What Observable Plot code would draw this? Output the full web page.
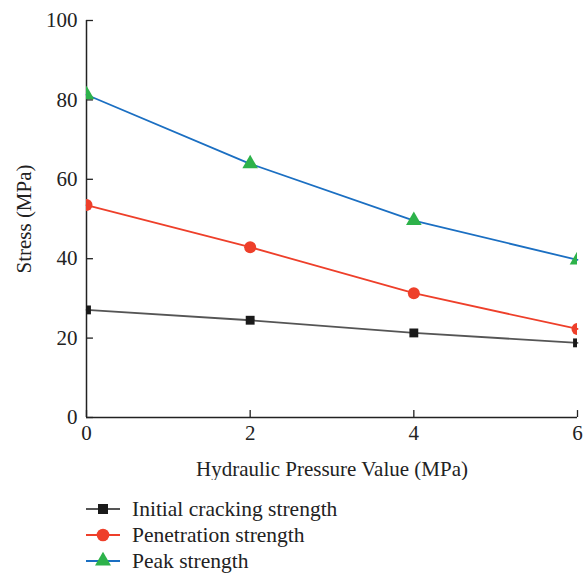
<!DOCTYPE html>
<html>
<head>
<meta charset="utf-8">
<script src="https://cdn.jsdelivr.net/npm/d3@7"></script>
<script src="https://cdn.jsdelivr.net/npm/@observablehq/plot@0.6"></script>
<style>
  html, body { margin: 0; padding: 0; background: #fff; }
  body { width: 588px; height: 573px; overflow: hidden; font-family: "Liberation Serif", "DejaVu Serif", serif; color: #222; }
  #legend { margin-left: 86px; margin-top: 16px; }
  .row { display: flex; align-items: center; height: 26px; font-size: 21.5px; }
  .row svg { margin-right: 12px; }
</style>
</head>
<body>
<div id="chart"></div>
<div id="legend"></div>
<script>
const pressure = [0, 2, 4, 6];
const seriesNames = ["Initial cracking strength", "Penetration strength", "Peak strength"];
const initialCracking = [27.1, 24.5, 21.3, 18.8];
const penetration = [53.5, 42.9, 31.3, 22.3];
const peak = [81.3, 63.9, 49.6, 39.7];
const xTicks = [0, 2, 4, 6];
const yTicks = [0, 20, 40, 60, 80, 100];

const lineColors = ["#555555", "#ee3f2a", "#1b6fc2"];
const markColors = ["#1a1a1a", "#ee3f2a", "#2db24a"];
const symbols = ["square", "circle", "triangle"];

const valuesList = [initialCracking, penetration, peak];
const data = [];
seriesNames.forEach((s, i) => pressure.forEach((p, j) => data.push({series: s, x: p, y: valuesList[i][j], idx: i})));

const marks = [
  Plot.axisX({ticks: xTicks, tickFormat: "d", tickSize: 0, tickPadding: 8, fontSize: 21, label: "Hydraulic Pressure Value (MPa)", labelAnchor: "center", labelOffset: 58, labelArrow: "none"}),
  Plot.axisY({ticks: yTicks, tickFormat: "d", tickSize: 0, tickPadding: 9, fontSize: 21, label: "Stress (MPa)", labelAnchor: "center", labelOffset: 70, labelArrow: "none"}),
  Plot.ruleX(xTicks, {x: d => d, y1: 0, y2: 1.75, stroke: "#222", strokeWidth: 1.3}),
  Plot.ruleY(yTicks, {y: d => d, x1: 0, x2: 0.085, stroke: "#222", strokeWidth: 1.3}),
  Plot.ruleX([0], {stroke: "#222", strokeWidth: 1.5}),
  Plot.ruleY([0], {stroke: "#222", strokeWidth: 1.5})
];
seriesNames.forEach((s, i) => {
  const d = data.filter(r => r.idx === i);
  marks.push(Plot.line(d, {x: "x", y: "y", stroke: lineColors[i], strokeWidth: 1.8}));
});
seriesNames.forEach((s, i) => {
  const d = data.filter(r => r.idx === i);
  marks.push(Plot.dot(d, {x: "x", y: "y", symbol: () => symbols[i], fill: markColors[i], stroke: "none", r: i === 0 ? 5 : i === 1 ? 6 : 5.8, clip: true}));
});

const chart = Plot.plot({
  width: 588,
  height: 480,
  marginLeft: 86,
  marginRight: 11,
  marginTop: 20,
  marginBottom: 63,
  style: {fontFamily: "'Liberation Serif', 'DejaVu Serif', serif", fontSize: "21px", color: "#222", background: "#fff"},
  x: {domain: [0, 6]},
  y: {domain: [0, 100]},
  symbol: {type: "identity"},
  marks
});
document.getElementById("chart").appendChild(chart);

// legend
const legend = d3.select("#legend");
seriesNames.forEach((s, i) => {
  const row = legend.append("div").attr("class", "row");
  const svg = row.append("svg").attr("width", 34).attr("height", 20);
  svg.append("line").attr("x1", 0).attr("x2", 34).attr("y1", 10).attr("y2", 10).attr("stroke", lineColors[i]).attr("stroke-width", 1.8);
  const sym = [d3.symbolSquare, d3.symbolCircle, d3.symbolTriangle][i];
  svg.append("path").attr("transform", "translate(17,10)").attr("d", d3.symbol(sym, [100, 125, 110][i])()).attr("fill", markColors[i]);
  row.append("span").text(s);
});
</script>
</body>
</html>
